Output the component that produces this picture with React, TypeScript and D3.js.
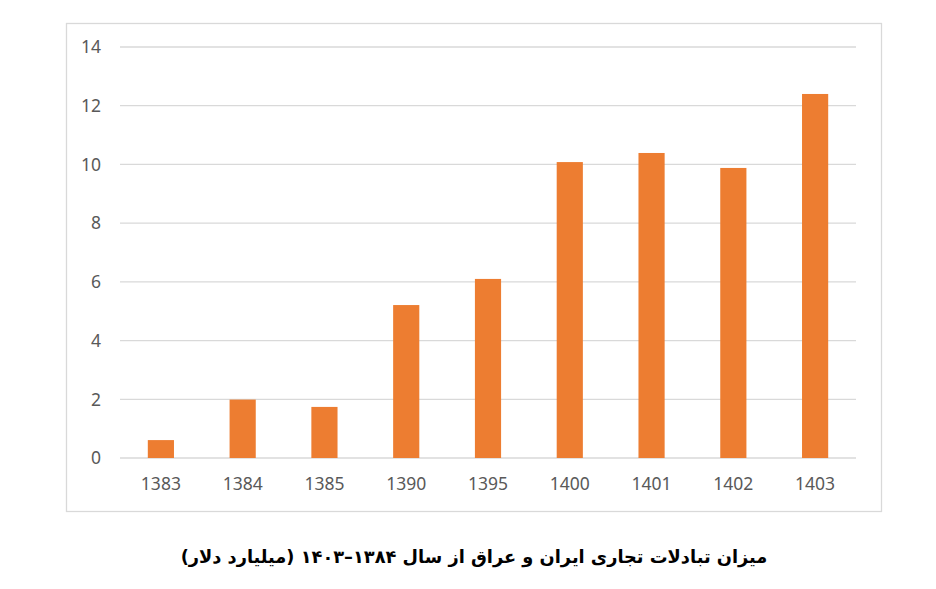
import {useEffect, useRef} from 'react';
import * as d3 from 'd3';

const years = ['1383', '1384', '1385', '1390', '1395', '1400', '1401', '1402', '1403'];
const tradeValues = [0.61, 1.99, 1.74, 5.21, 6.1, 10.08, 10.39, 9.88, 12.4];
const yTicks = [0, 2, 4, 6, 8, 10, 12, 14];
const title = 'میزان تبادلات تجاری ایران و عراق از سال ۱۳۸۴–۱۴۰۳ (میلیارد دلار)';

const WIDTH = 936;
const HEIGHT = 589;

const App = () => {
  const svgRef = useRef<SVGSVGElement | null>(null);

  useEffect(() => {
    document.body.style.margin = '0';
    if (!svgRef.current) return;

    const margin = {top: 47, right: 80, bottom: 131, left: 120};
    const svg = d3.select(svgRef.current);
    svg.selectAll('*').remove();

    const x = d3
      .scaleBand()
      .domain(years)
      .range([margin.left, WIDTH - margin.right])
      .paddingInner(0.68)
      .paddingOuter(0.34);

    const y = d3
      .scaleLinear()
      .domain([0, 14])
      .range([HEIGHT - margin.bottom, margin.top]);

    // chart frame
    svg
      .append('rect')
      .attr('x', 66.5)
      .attr('y', 23.5)
      .attr('width', 815)
      .attr('height', 488)
      .attr('fill', 'white')
      .attr('stroke', '#d9d9d9')
      .attr('stroke-width', 1.3);

    // gridlines
    svg
      .append('g')
      .selectAll('line')
      .data(yTicks)
      .join('line')
      .attr('x1', margin.left)
      .attr('x2', WIDTH - margin.right)
      .attr('y1', (d) => y(d))
      .attr('y2', (d) => y(d))
      .attr('stroke', '#d9d9d9')
      .attr('stroke-width', 1.3);

    // y labels
    svg
      .append('g')
      .selectAll('text')
      .data(yTicks)
      .join('text')
      .attr('x', 101)
      .attr('y', (d) => y(d))
      .attr('dy', '0.36em')
      .attr('text-anchor', 'end')
      .attr('font-family', 'Noto Sans, sans-serif')
      .attr('font-size', 17.5)
      .attr('fill', '#595959')
      .text((d) => d);

    // bars
    svg
      .append('g')
      .selectAll('rect')
      .data(tradeValues)
      .join('rect')
      .attr('x', (_, i) => x(years[i])!)
      .attr('width', x.bandwidth())
      .attr('y', (d) => y(d))
      .attr('height', (d) => y(0) - y(d))
      .attr('fill', '#ED7D31');

    // x labels
    svg
      .append('g')
      .selectAll('text')
      .data(years)
      .join('text')
      .attr('x', (d) => x(d)! + x.bandwidth() / 2)
      .attr('y', 490)
      .attr('text-anchor', 'middle')
      .attr('font-family', 'Noto Sans, sans-serif')
      .attr('font-size', 17.5)
      .attr('fill', '#595959')
      .text((d) => d);

    // title
    svg
      .append('text')
      .attr('x', 474)
      .attr('y', 563)
      .attr('text-anchor', 'middle')
      .attr('direction', 'rtl')
      .attr('font-family', 'DejaVu Sans, sans-serif')
      .attr('font-weight', 'bold')
      .attr('font-size', 17.8)
      .attr('fill', '#000')
      .text(title);
  }, []);

  return <svg ref={svgRef} width={WIDTH} height={HEIGHT} style={{display: 'block', background: 'white'}}></svg>;
};

export default App;
